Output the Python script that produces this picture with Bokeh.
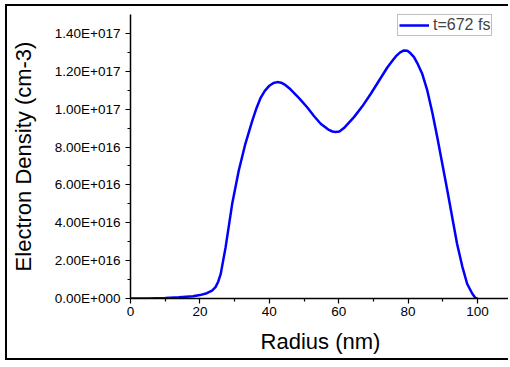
from bokeh.plotting import figure
from bokeh.models import FixedTicker, Range1d, Legend, LegendItem
from bokeh.embed import file_html
from bokeh.resources import INLINE

radius = [0, 5, 10, 14, 18, 20, 22, 23.5, 24.5, 25.3, 26, 27.4, 29.3, 31.2, 33.1, 35.1, 36.3,
          37.5, 38.7, 39.9, 41.2, 42.3, 43.4, 44.6, 46.1, 48.5, 50.9, 52.8, 54.8, 57, 58.2,
          59.1, 60.2, 61.5, 64.4, 66.8, 69.2, 71.6, 74.0, 75.3, 76.5, 77.7, 78.8, 79.8, 80.7,
          81.7, 82.6, 84, 85.5, 87, 88.4, 91.3, 94.1, 95.6, 97.0, 98.5, 99.4, 100]
density = [0, 0, 0.02e16, 0.06e16, 0.12e16, 0.18e16, 0.28e16, 0.42e16, 0.6e16, 0.9e16, 1.3e16,
           2.7e16, 5.0e16, 6.76e16, 8.17e16, 9.4e16, 10.05e16, 10.6e16, 10.97e16, 11.22e16,
           11.38e16, 11.43e16, 11.4e16, 11.28e16, 11.05e16, 10.6e16, 10.1e16, 9.65e16, 9.23e16,
           8.92e16, 8.82e16, 8.79e16, 8.82e16, 9.0e16, 9.58e16, 10.15e16, 10.8e16, 11.5e16,
           12.2e16, 12.52e16, 12.8e16, 13.0e16, 13.1e16, 13.08e16, 12.95e16, 12.75e16,
           12.45e16, 11.9e16, 11.0e16, 9.8e16, 8.52e16, 5.7e16, 2.89e16, 1.7e16, 0.78e16,
           0.25e16, 0.03e16, 0]

x_ticks = [0, 20, 40, 60, 80, 100]
x_minor = [10, 30, 50, 70, 90]
y_ticks = [0, 2e16, 4e16, 6e16, 8e16, 10e16, 12e16, 14e16]
y_tick_labels = ["0.00E+000", "2.00E+016", "4.00E+016", "6.00E+016", "8.00E+016",
                 "1.00E+017", "1.20E+017", "1.40E+017"]
y_minor = [1e16, 3e16, 5e16, 7e16, 9e16, 11e16, 13e16]
series_label = "t=672 fs"

FONT = "Liberation Sans"

p = figure(width=503, height=356, output_backend="svg", toolbar_location=None,
           x_range=Range1d(0, 109.5), y_range=Range1d(0, 1.5e17),
           min_border_left=123, min_border_right=0, min_border_top=8, min_border_bottom=64,
           styles={"margin-left": "5px", "margin-top": "4px",
                   "border-left": "2px solid black", "border-top": "2px solid black",
                   "border-bottom": "2px solid black"})
p.outline_line_color = None
p.grid.grid_line_color = None
p.background_fill_color = "white"
p.border_fill_color = "white"

r = p.line(radius, density, line_color="#0000FF", line_width=2.5)

for ax in (p.xaxis[0], p.yaxis[0]):
    ax.axis_line_color = "black"
    ax.axis_line_width = 1.5
    ax.major_tick_line_color = "black"
    ax.minor_tick_line_color = "black"
    ax.major_tick_line_width = 1.2
    ax.minor_tick_line_width = 1.2
    ax.major_tick_in = 0
    ax.major_tick_out = 5
    ax.minor_tick_in = 0
    ax.minor_tick_out = 3
    ax.major_label_text_font = FONT
    ax.major_label_text_font_size = "13.5px"
    ax.major_label_text_color = "black"
    ax.axis_label_text_font = FONT
    ax.axis_label_text_font_style = "normal"
    ax.axis_label_text_color = "black"

p.xaxis.ticker = FixedTicker(ticks=x_ticks, minor_ticks=x_minor)
p.yaxis.ticker = FixedTicker(ticks=y_ticks, minor_ticks=y_minor)
p.yaxis.major_label_overrides = {t: l for t, l in zip(y_ticks, y_tick_labels)}
p.xaxis.major_label_overrides = {t: str(t) for t in x_ticks}

p.xaxis.axis_label = "Radius (nm)"
p.yaxis.axis_label = "Electron Density (cm-3)"
p.xaxis.axis_label_text_font_size = "22px"
p.yaxis.axis_label_text_font_size = "22px"
p.xaxis.major_label_standoff = 3
p.yaxis.major_label_standoff = 5
p.xaxis.axis_label_standoff = 10
p.yaxis.axis_label_standoff = 16

legend = Legend(items=[LegendItem(label=series_label, renderers=[r])],
                location=(267, 262), label_text_font=FONT, label_text_font_size="16px",
                border_line_color="#808080", border_line_width=1,
                padding=1, margin=0, spacing=0, glyph_width=30, glyph_height=14,
                label_height=14, label_standoff=4, background_fill_alpha=1)
p.add_layout(legend)

open("out.html", "w").write(file_html(p, INLINE))
